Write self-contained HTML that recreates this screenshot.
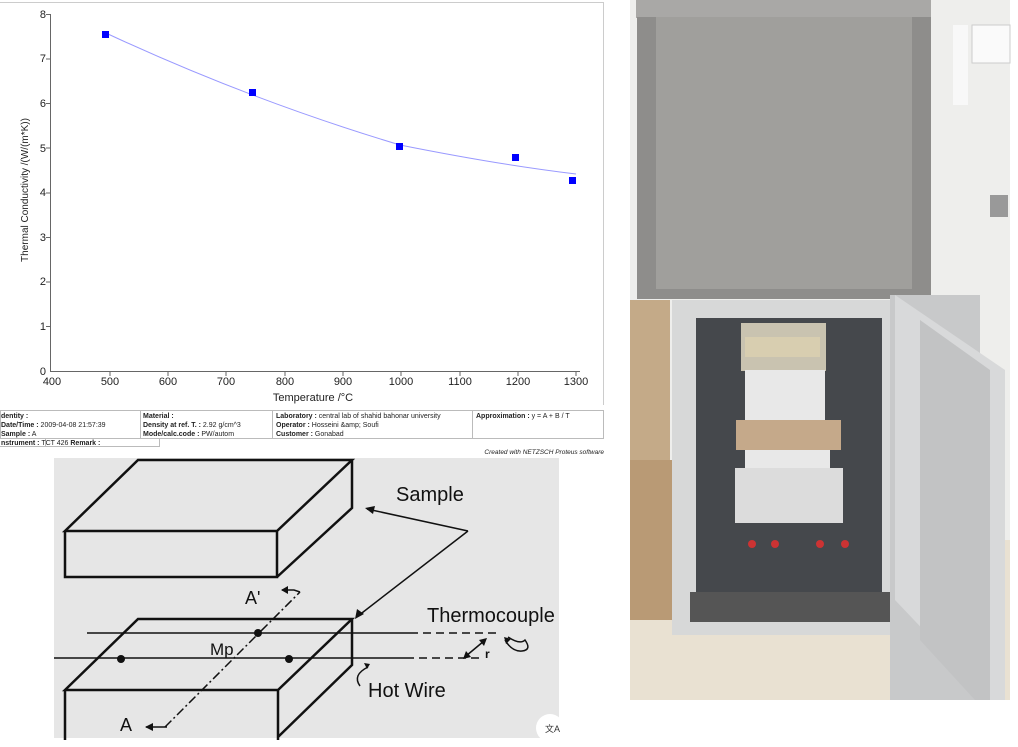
<!DOCTYPE html>
<html><head><meta charset="utf-8"><style>
body{margin:0;width:1018px;height:747px;background:#fff;overflow:hidden;position:relative;font-family:"Liberation Sans",sans-serif}
.a{position:absolute}
</style></head><body>
<svg class="a" style="left:0;top:0" width="1018" height="747">
<line x1="0" y1="2.5" x2="604" y2="2.5" stroke="#ccc"/>
<line x1="603.5" y1="2" x2="603.5" y2="405" stroke="#ccc"/>
<line x1="50.5" y1="14" x2="50.5" y2="372" stroke="#666"/>
<line x1="50" y1="371.5" x2="580" y2="371.5" stroke="#666"/>
<g stroke="#666">
<line x1="46" y1="14.5" x2="50" y2="14.5"/><line x1="46" y1="59" x2="50" y2="59"/><line x1="46" y1="103.5" x2="50" y2="103.5"/><line x1="46" y1="148" x2="50" y2="148"/><line x1="46" y1="193" x2="50" y2="193"/><line x1="46" y1="237.5" x2="50" y2="237.5"/><line x1="46" y1="282" x2="50" y2="282"/><line x1="46" y1="326.5" x2="50" y2="326.5"/>
<line x1="110" y1="372" x2="110" y2="376"/><line x1="168" y1="372" x2="168" y2="376"/><line x1="226" y1="372" x2="226" y2="376"/><line x1="285" y1="372" x2="285" y2="376"/><line x1="343" y1="372" x2="343" y2="376"/><line x1="401" y1="372" x2="401" y2="376"/><line x1="460" y1="372" x2="460" y2="376"/><line x1="518" y1="372" x2="518" y2="376"/><line x1="576" y1="372" x2="576" y2="376"/>
</g>
<g font-size="11" fill="#222" text-anchor="end">
<text x="46" y="18">8</text><text x="46" y="62">7</text><text x="46" y="107">6</text><text x="46" y="152">5</text><text x="46" y="196">4</text><text x="46" y="241">3</text><text x="46" y="285">2</text><text x="46" y="330">1</text><text x="46" y="375">0</text>
</g>
<g font-size="11" fill="#222" text-anchor="middle">
<text x="52" y="385">400</text><text x="110" y="385">500</text><text x="168" y="385">600</text><text x="226" y="385">700</text><text x="285" y="385">800</text><text x="343" y="385">900</text><text x="401" y="385">1000</text><text x="460" y="385">1100</text><text x="518" y="385">1200</text><text x="576" y="385">1300</text>
</g>
<text x="313" y="401" font-size="11" fill="#222" text-anchor="middle">Temperature /°C</text>
<text transform="translate(28,190) rotate(-90)" font-size="10" fill="#222" text-anchor="middle">Thermal Conductivity /(W/(m*K))</text>
<path d="M108,34 Q250,100 400,145 Q500,165 576,174" fill="none" stroke="#99f" stroke-width="1"/>
<g fill="#00f"><rect x="102" y="31" width="7" height="7"/><rect x="249" y="89" width="7" height="7"/><rect x="396" y="143" width="7" height="7"/><rect x="512" y="154" width="7" height="7"/><rect x="569" y="177" width="7" height="7"/></g>
<g stroke="#bbb" fill="none"><rect x="0.5" y="410.5" width="603" height="28"/><line x1="0" y1="438.5" x2="604" y2="438.5"/><line x1="0" y1="446.5" x2="160" y2="446.5"/><line x1="140.5" y1="410" x2="140.5" y2="438"/><line x1="272.5" y1="410" x2="272.5" y2="438"/><line x1="472.5" y1="410" x2="472.5" y2="438"/><line x1="45.5" y1="438" x2="45.5" y2="447"/><line x1="159.5" y1="438" x2="159.5" y2="447"/></g>
<g font-size="7" fill="#222">
<text x="1" y="418"><tspan font-weight="bold">dentity :</tspan></text>
<text x="1" y="427"><tspan font-weight="bold">Date/Time :</tspan> 2009-04-08 21:57:39</text>
<text x="1" y="436"><tspan font-weight="bold">Sample :</tspan>   A</text>
<text x="1" y="445"><tspan font-weight="bold">nstrument :</tspan> TCT 426 <tspan font-weight="bold">Remark :</tspan></text>
<text x="143" y="418"><tspan font-weight="bold">Material :</tspan></text>
<text x="143" y="427"><tspan font-weight="bold">Density at ref. T. :</tspan> 2.92 g/cm^3</text>
<text x="143" y="436"><tspan font-weight="bold">Mode/calc.code :</tspan> PW/autom</text>
<text x="276" y="418"><tspan font-weight="bold">Laboratory :</tspan> central lab of shahid bahonar university</text>
<text x="276" y="427"><tspan font-weight="bold">Operator :</tspan>   Hosseini &amp;amp; Soufi</text>
<text x="276" y="436"><tspan font-weight="bold">Customer :</tspan>   Gonabad</text>
<text x="476" y="418"><tspan font-weight="bold">Approximation :</tspan> y = A + B / T</text>
<text x="604" y="454" font-style="italic" text-anchor="end" font-size="6.5">Created with NETZSCH Proteus software</text>
</g>
<rect x="54" y="458" width="505" height="280" fill="#e6e6e6"/>
<g stroke="#111" stroke-width="2.5" fill="none">
<path d="M65,531 L138,460 L352,460 L277,531 Z M65,531 V577 H277 V531 M352,460 V508 L277,577"/>
<path d="M65,690 L138,619 L352,619 L278,690 Z M65,690 V740 M278,690 V740 M352,619 V665 L278,737"/>
</g>
<g stroke="#111" stroke-width="1.5" fill="none">
<line x1="87" y1="633" x2="410" y2="633"/><line x1="410" y1="633" x2="500" y2="633" stroke-dasharray="8,5"/>
<line x1="54" y1="658" x2="406" y2="658"/><line x1="406" y1="658" x2="480" y2="658" stroke-dasharray="8,5"/>
<line x1="165" y1="727" x2="300" y2="592" stroke-dasharray="9,3,2,3"/>
<path d="M300,592 L294,590 L282,590"/><path d="M167,727 L146,727"/>
<path d="M468,531 L367,509 M468,531 L358,616"/>
<path d="M466,656 L484,641"/>
<path d="M508,637 Q520,645 525,640 Q532,650 522,651 Q512,652 505,640"/><path d="M368,667 Q352,675 360,686"/>
</g>
<g fill="#111"><circle cx="121" cy="659" r="4"/><circle cx="258" cy="633" r="4"/><circle cx="289" cy="659" r="4"/>
<path d="M365,508 l10,-2 l-2,8z"/><path d="M355,619 l2,-10 l7,5z"/><path d="M145,727 l8,-4 v8z"/><path d="M281,590 l7,-4 v8z"/>
<path d="M463,659 l3,-8 l5,6z"/><path d="M487,638 l-3,8 l-5,-6z"/><path d="M370,664 l-6,-1 l3,6z"/><path d="M504,637 l2,7 l5,-5z"/></g>
<g font-size="20" fill="#111">
<text x="396" y="501">Sample</text><text x="427" y="622">Thermocouple</text><text x="368" y="697">Hot Wire</text>
<text x="210" y="655" font-size="17">Mp</text><text x="245" y="604" font-size="18">A'</text><text x="120" y="731" font-size="18">A</text><text x="485" y="658" font-size="12" font-weight="bold">r</text>
</g>
<circle cx="550" cy="728" r="14" fill="#fff"/><text x="545" y="732" font-size="9" fill="#333">文A</text>
<rect x="630" y="0" width="380" height="700" fill="#eeeeec"/>
<rect x="630" y="540" width="380" height="160" fill="#e9e1d2"/>
<rect x="630" y="300" width="40" height="160" fill="#c4aa88"/><rect x="630" y="460" width="45" height="160" fill="#b99a75"/>
<rect x="636" y="0" width="295" height="18" fill="#a9a8a6"/>
<rect x="637" y="17" width="294" height="282" fill="#8e8d8b"/>
<rect x="656" y="17" width="256" height="272" fill="#a09f9c"/>
<rect x="953" y="25" width="15" height="80" fill="#f8f8f8"/><rect x="972" y="25" width="38" height="38" fill="#fafafa" stroke="#ccc"/>
<rect x="990" y="195" width="18" height="22" fill="#999"/>
<rect x="672" y="300" width="230" height="335" fill="#d7d8d8"/>
<rect x="696" y="318" width="186" height="290" fill="#45484c"/>
<rect x="741" y="323" width="85" height="48" fill="#c9c3b0"/><rect x="745" y="337" width="75" height="20" fill="#d8ceb0"/>
<rect x="745" y="370" width="80" height="50" fill="#e8e8e8"/>
<rect x="736" y="420" width="105" height="30" fill="#c5a98a"/>
<rect x="745" y="450" width="85" height="20" fill="#e8e8e8"/>
<rect x="735" y="468" width="108" height="55" fill="#dcdcdc"/>
<g fill="#c33"><circle cx="752" cy="544" r="4"/><circle cx="775" cy="544" r="4"/><circle cx="820" cy="544" r="4"/><circle cx="845" cy="544" r="4"/></g>
<rect x="690" y="592" width="200" height="30" fill="#555"/>
<rect x="890" y="295" width="90" height="405" fill="#c8c9ca"/>
<path d="M895,295 L1005,370 L1005,700 L990,700 L895,600 Z" fill="#d8d9da"/>
<path d="M920,320 L990,370 L990,700 L975,700 L920,640 Z" fill="#c2c3c4"/>
</svg>
</body></html>
